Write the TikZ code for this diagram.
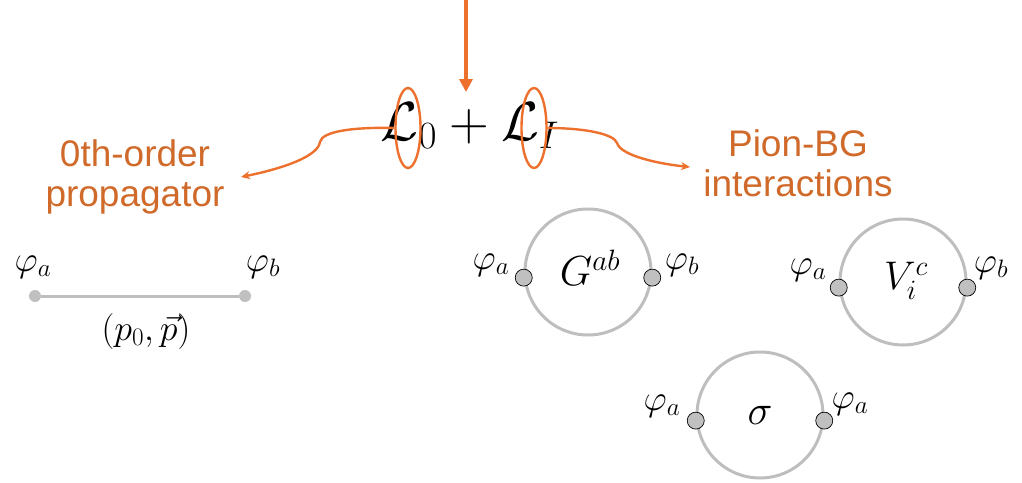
\RequirePackage{fix-cm}
\documentclass[tikz,border=0pt]{standalone}
\usepackage{fontspec}
\setmainfont{Liberation Sans}
\usetikzlibrary{shapes.geometric,arrows.meta}
\definecolor{orline}{RGB}{238,112,45}
\definecolor{ortext}{RGB}{208,106,42}
\definecolor{ringgray}{RGB}{190,190,190}
\definecolor{dotgray}{RGB}{192,192,192}
\begin{document}
\begin{tikzpicture}[x=1pt,y=-1pt,
  orarrow/.style={draw=orline,line width=2.4pt,-{Stealth[length=9pt,width=8pt]}},
  ring/.style={circle,draw=ringgray,line width=3pt,minimum size=126pt,inner sep=0pt},
  vdot/.style={circle,draw=black,line width=0.7pt,fill=dotgray,minimum size=17pt,inner sep=0pt},
  edot/.style={circle,fill=dotgray,minimum size=12pt,inner sep=0pt},
  lab/.style={inner sep=0pt,font=\fontsize{36}{40}\selectfont},
  otext/.style={text=ortext,align=center,font=\fontsize{37}{40}\selectfont},
  hl/.style={ellipse,draw=orline,line width=2.4pt,minimum width=25pt,minimum height=80pt,inner sep=0pt}]
\useasboundingbox (0,0) rectangle (1022,482);
% top equation
\node[font=\fontsize{55}{60}\selectfont,inner sep=0pt] (eq) at (470,126) {$\mathcal{L}_0+\mathcal{L}_I$};
\node[hl] (e1) at (408,128) {};
\node[hl] (e2) at (534,128) {};
\coordinate (top) at (466,0);
\draw[draw=orline,line width=3.5pt,-{Triangle[length=13pt,width=13pt]}] (top) -- (466,92) coordinate (topend);
% labels
\node[otext] (prop) at (135,177) {0th-order\\propagator};
\node[otext] (pion) at (798,163) {Pion-BG\\interactions};
\coordinate (lt) at (241,177);
\coordinate (rt) at (690,167);
\draw[orarrow] (e1.west) .. controls (355,127) and (322,131) .. (320,142)
  .. controls (318,156) and (285,168) .. (lt);
\draw[orarrow] (e2.east) .. controls (585,128) and (614,134) .. (617,143)
  .. controls (621,156) and (660,164) .. (rt);
% propagator line
\node[edot] (pa) at (35,296) {};
\node[edot] (pb) at (245,296) {};
\draw[ringgray,line width=3pt] (pa) -- (pb);
\node[lab] (pal) at (33,267) {$\varphi_a$};
\node[lab] (pbl) at (263,267) {$\varphi_b$};
\node[lab] (mom) at (146,331) {$(p_0,\vec{p})$};
% G ring
\node[ring] (G) at (588,272) {};
\node[lab,font=\fontsize{42}{44}\selectfont] (Gl) at (590,268) {$G^{ab}$};
\node[vdot] (Ga) at (G.185) {};
\node[vdot] (Gb) at (G.-5) {};
\node[lab] at (491,265) {$\varphi_a$};
\node[lab] at (682,265) {$\varphi_b$};
% V ring
\node[ring] (V) at (903,282) {};
\node[lab,font=\fontsize{40}{44}\selectfont] (Vl) at (906,281) {$V_i^c$};
\node[vdot] (Va) at (V.185) {};
\node[vdot] (Vb) at (V.-5) {};
\node[lab] at (808,270) {$\varphi_a$};
\node[lab] at (991,268) {$\varphi_b$};
% sigma ring
\node[ring] (S) at (760,415) {};
\node[lab,font=\fontsize{42}{44}\selectfont] (Sl) at (760,415) {$\sigma$};
\node[vdot] (Sa) at (S.185) {};
\node[vdot] (Sb) at (S.-5) {};
\node[lab] at (662,406) {$\varphi_a$};
\node[lab] at (850,404) {$\varphi_a$};
\end{tikzpicture}
\end{document}
